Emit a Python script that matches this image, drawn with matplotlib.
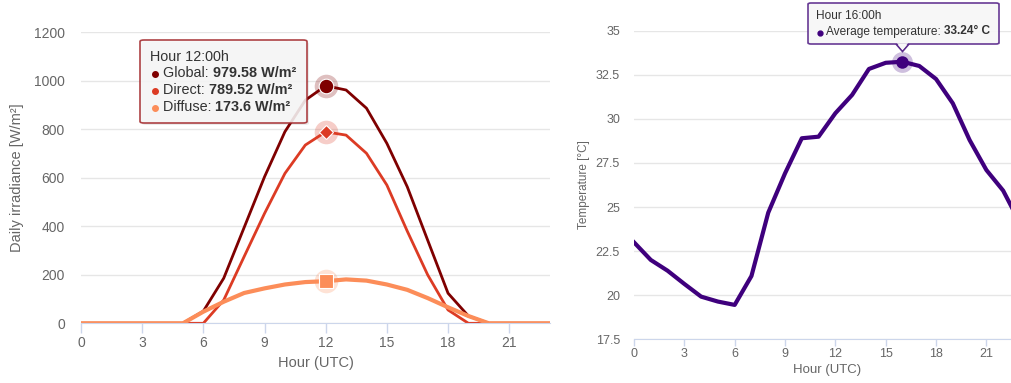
import matplotlib
matplotlib.use('Agg')
import matplotlib.pyplot as plt
from matplotlib.lines import Line2D
from matplotlib.patches import FancyBboxPatch, Polygon

hours = list(range(24))
global_irr = [0, 0, 0, 0, 0, 0, 50, 186, 395, 604, 790, 920, 979.58, 962,
              887, 742, 563, 343, 124, 30, 0, 0, 0, 0]
direct_irr = [0, 0, 0, 0, 0, 0, 0, 96, 275, 453, 618, 735, 789.52, 776,
              701, 570, 380, 200, 55, 0, 0, 0, 0, 0]
diffuse_irr = [0, 0, 0, 0, 0, 0, 48, 89, 125, 144, 160, 170, 173.6, 181,
               176, 160, 138, 104, 66, 30, 0, 0, 0, 0]
temperature = [23.0, 22.0, 21.39, 20.64, 19.92, 19.64, 19.45, 21.09, 24.68,
               26.91, 28.9, 28.99, 30.32, 31.36, 32.83, 33.18, 33.24, 33.0,
               32.26, 30.88, 28.8, 27.1, 25.93, 24.1]
x_ticks = [0, 3, 6, 9, 12, 15, 18, 21]
irr_ticks = [0, 200, 400, 600, 800, 1000, 1200]
temp_ticks = [17.5, 20, 22.5, 25, 27.5, 30, 32.5, 35]
temp_labels = ['17.5', '20', '22.5', '25', '27.5', '30', '32.5', '35']

W, H = 1012, 383
C_GLOBAL = '#7f0000'
C_DIRECT = '#dc3b24'
C_DIFFUSE = '#fc8d59'
C_TEMP = '#3f007d'
TXT = '#666666'
GRID = '#e6e6e6'
AXIS = '#ccd6eb'
PT = 0.72  # points per pixel at dpi 100

plt.rcParams['font.family'] = ['Liberation Sans', 'DejaVu Sans']


def fx(px):
    return px / W


def fy(py):
    return 1 - py / H


def style_axes(ax, tick_size, tick_len, xpad, ypad):
    for s in ['top', 'right', 'left']:
        ax.spines[s].set_visible(False)
    ax.spines['bottom'].set_color(AXIS)
    ax.grid(axis='y', color=GRID, lw=1)
    ax.set_axisbelow(True)
    ax.tick_params(axis='x', colors=AXIS, length=tick_len * PT, width=1,
                   pad=xpad * PT, labelcolor=TXT, labelsize=tick_size)
    ax.tick_params(axis='y', length=0, pad=ypad * PT, labelcolor=TXT,
                   labelsize=tick_size)


def rich_line(fig, x, y, parts, size, renderer):
    for txt, weight in parts:
        t = fig.text(fx(x), fy(y), txt, fontsize=size, fontweight=weight,
                     color='#333333', va='center', ha='left', zorder=20)
        bb = t.get_window_extent(renderer)
        x = bb.x1


def bullet(fig, x, y, color, ms=4):
    fig.add_artist(Line2D([fx(x)], [fy(y)], marker='o', ms=ms, color=color,
                          lw=0, transform=fig.transFigure, zorder=20))


fig = plt.figure(figsize=(W / 100, H / 100), dpi=100)

# left chart: irradiance
ax1 = fig.add_axes([fx(81), fy(323.3), fx(550 - 81), (323.3 - 32.3) / H])
ax1.plot(hours, global_irr, color=C_GLOBAL, lw=2, solid_joinstyle='round')
ax1.plot(hours, direct_irr, color=C_DIRECT, lw=2, solid_joinstyle='round')
ax1.plot(hours, diffuse_irr, color=C_DIFFUSE, lw=3, solid_joinstyle='round')
ax1.set_xlim(0, 23)
ax1.set_ylim(0, 1200)
ax1.set_xticks(x_ticks)
ax1.set_yticks(irr_ticks)
style_axes(ax1, 10, 10, 3, 16)
fig.text(fx(315.5), fy(363), 'Hour (UTC)', color=TXT, fontsize=10.5,
         ha='center', va='center')
fig.text(fx(17), fy(177.7), 'Daily irradiance [W/m²]', color=TXT,
         fontsize=10.5, ha='center', va='center', rotation=90)

hover = hours.index(12)
for vals, col, mk, ms in [(global_irr, C_GLOBAL, 'o', 10.5),
                          (direct_irr, C_DIRECT, 'D', 7.5),
                          (diffuse_irr, C_DIFFUSE, 's', 9.5)]:
    ax1.plot(hours[hover], vals[hover], marker='o', ms=17, color=col,
             alpha=0.25, mew=0, zorder=5, clip_on=False)
    ax1.plot(hours[hover], vals[hover], marker=mk, ms=ms, color=col,
             mec='white', mew=0.8, zorder=6, clip_on=False)

# right chart: temperature
ax2 = fig.add_axes([fx(634), fy(339.3), fx(23 * 16.78), (339.3 - 30.7) / H])
ax2.plot(hours, temperature, color=C_TEMP, lw=3, solid_joinstyle='round')
ax2.set_xlim(0, 23)
ax2.set_ylim(17.5, 35)
ax2.set_xticks(x_ticks)
ax2.set_yticks(temp_ticks)
ax2.set_yticklabels(temp_labels)
style_axes(ax2, 9, 7, 2, 14)
fig.text(fx(827), fy(370), 'Hour (UTC)', color=TXT, fontsize=9.5,
         ha='center', va='center')
fig.text(fx(584), fy(185), 'Temperature [°C]', color=TXT, fontsize=8.5,
         ha='center', va='center', rotation=90)
th = hours.index(16)
ax2.plot(hours[th], temperature[th], marker='o', ms=15, color=C_TEMP,
         alpha=0.25, mew=0, zorder=5)
ax2.plot(hours[th], temperature[th], marker='o', ms=9, color=C_TEMP,
         mew=0, zorder=6)

renderer = fig.canvas.get_renderer()

# left tooltip
shadow = FancyBboxPatch((fx(142), fy(125)), fx(167), 83 / H,
                        boxstyle='round,pad=0,rounding_size=0.004',
                        transform=fig.transFigure, fc='#000000', alpha=0.08,
                        ec='none', zorder=18)
box = FancyBboxPatch((fx(140), fy(123)), fx(167), 83 / H,
                     boxstyle='round,pad=0,rounding_size=0.004',
                     transform=fig.transFigure, fc='#f7f7f7', alpha=0.88,
                     ec='#a3292c', lw=1.2, zorder=19)
fig.add_artist(shadow)
fig.add_artist(box)
fig.text(fx(150), fy(57), 'Hour 12:00h', fontsize=10.4, color='#333333',
         va='center', ha='left', zorder=20)
rows = [('Global: ', '979.58 W/m²', C_GLOBAL, 73),
        ('Direct: ', '789.52 W/m²', C_DIRECT, 90),
        ('Diffuse: ', '173.6 W/m²', C_DIFFUSE, 107)]
for name, val, col, yy in rows:
    bullet(fig, 154.5, yy + 1, col)
    rich_line(fig, 163, yy, [(name, 'normal'), (val, 'bold')], 10.4,
              renderer)

# right tooltip
tip = Polygon([(fx(896), fy(44)), (fx(902.5), fy(51.5)), (fx(909), fy(44))],
              closed=True, transform=fig.transFigure, fc='#f7f7f7',
              ec='#5b2a8c', lw=1.2, zorder=19)
box2 = FancyBboxPatch((fx(808), fy(44)), fx(191), 41 / H,
                      boxstyle='round,pad=0,rounding_size=0.003',
                      transform=fig.transFigure, fc='#f7f7f7', alpha=0.92,
                      ec='#5b2a8c', lw=1.2, zorder=19)
fig.add_artist(tip)
fig.add_artist(box2)
cover = Polygon([(fx(897), fy(43.2)), (fx(902.5), fy(50)), (fx(908), fy(43.2))],
                closed=True, transform=fig.transFigure, fc='#f7f7f7',
                ec='none', zorder=19.5)
fig.add_artist(cover)
fig.text(fx(816.5), fy(16), 'Hour 16:00h', fontsize=8.6, color='#333333',
         va='center', ha='left', zorder=20)
bullet(fig, 819.5, 32.5, C_TEMP, ms=3.5)
rich_line(fig, 826, 31.5, [('Average temperature: ', 'normal'),
                           ('33.24° C', 'bold')], 8.6, renderer)

fig.savefig('out.png', dpi=100)
